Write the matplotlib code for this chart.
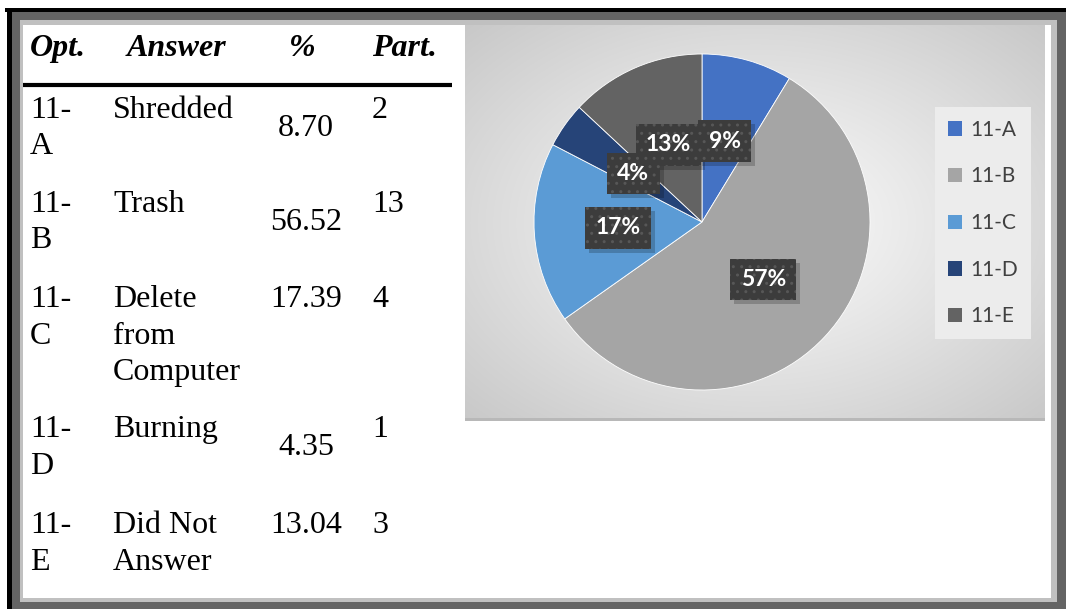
import numpy as np
import matplotlib.pyplot as plt
from matplotlib.patches import Rectangle, Patch
from matplotlib.transforms import IdentityTransform

# table / chart data
options = ["11-A", "11-B", "11-C", "11-D", "11-E"]
answers = [["Shredded"], ["Trash"], ["Delete", "from", "Computer"], ["Burning"], ["Did Not", "Answer"]]
percent = [8.70, 56.52, 17.39, 4.35, 13.04]
participants = [2, 13, 4, 1, 3]
headers = ["Opt.", "Answer", "%", "Part."]
slice_colors = ["#4472C4", "#A5A5A5", "#5B9BD5", "#264478", "#636363"]

W, H = 1066, 609
fig = plt.figure(figsize=(W / 100, H / 100), dpi=100)
base = fig.add_axes([0, 0, 1, 1])
base.set_xlim(0, W)
base.set_ylim(H, 0)
base.set_axis_off()


def rect(x0, y0, x1, y1, color, z=1):
    base.add_patch(Rectangle((x0, y0), x1 - x0, y1 - y0, facecolor=color, edgecolor="none", zorder=z))


# page frame
rect(5, 8, W, 12, "#000000")
rect(7, 8, 12, H, "#000000")
rect(12, 12, W, H, "#646464")
rect(20, 20, 1057, 602, "#c0c0c0")
rect(23, 25, 1051, 598, "#ffffff")

# chart background with radial gradient
bx0, by0, bx1, by1 = 465, 25, 1045, 420
bw, bh = bx1 - bx0, by1 - by0
yy, xx = np.mgrid[0:bh, 0:bw]
d = np.sqrt(((xx - 0.5 * bw) / (0.5 * bw)) ** 2 + ((yy - 0.5 * bh) / (0.5 * bh)) ** 2)
g = 0.985 - 0.2 * (d / np.sqrt(2)) ** 1.1
base.imshow(np.dstack([g, g, g]), extent=[bx0, bx1, by1, by0], aspect="auto", zorder=2,
            interpolation="bilinear")
rect(bx0, by1 - 2, bx1, by1 + 1, "#b8b8b8", z=3)
base.set_xlim(0, W)
base.set_ylim(H, 0)

# table
serif = "Liberation Serif"
fs = 23
header_x = [30, 127, 302, 372]
header_ha = ["left", "left", "center", "left"]
for txt, x, ha in zip(headers, header_x, header_ha):
    base.text(x, 56, txt, fontfamily=serif, fontsize=fs, fontweight="bold", fontstyle="italic",
              ha=ha, va="baseline", zorder=5)
base.plot([23, 452], [85, 85], color="black", lw=3, solid_capstyle="butt", zorder=5)

row_base = [118, 212, 307, 437, 533]
pct_centered = [True, True, False, True, False]
step = 36.5
for i in range(len(options)):
    y = row_base[i]
    opt = options[i]
    base.text(30, y, opt[:3], fontfamily=serif, fontsize=fs, va="baseline", zorder=5)
    base.text(30, y + step, opt[3:], fontfamily=serif, fontsize=fs, va="baseline", zorder=5)
    for k, line in enumerate(answers[i]):
        base.text(113, y + k * step, line, fontfamily=serif, fontsize=fs, va="baseline", zorder=5)
    py = y + step / 2 if pct_centered[i] else y
    base.text(306, py, "%.2f" % percent[i], fontfamily=serif, fontsize=fs, ha="center",
              va="baseline", zorder=5)
    base.text(372, y, str(participants[i]), fontfamily=serif, fontsize=fs, va="baseline", zorder=5)

# pie
cx, cy, r = 702, 222, 168
pax = fig.add_axes([(cx - r) / W, (H - cy - r) / H, 2 * r / W, 2 * r / H])
pax.patch.set_alpha(0)
wedges, _, autotexts = pax.pie(percent, colors=slice_colors, startangle=90, counterclock=False,
                               autopct="%1.0f%%", pctdistance=0.5,
                               wedgeprops=dict(edgecolor="white", linewidth=0.6))
for t in autotexts:
    t.set_color("white")
    t.set_fontfamily("Lato")
    t.set_fontweight("bold")
    t.set_fontsize(16.5)
    t.set_zorder(4)
    t.set_bbox(dict(boxstyle="square,pad=0.45", facecolor="#3c3c3c", edgecolor="#575757",
                    hatch="..", linewidth=0))
pax.set_aspect("auto")
pax.set_xlim(-1, 1)
pax.set_ylim(-1, 1)

# soft drop shadow behind each label box (drawn under the boxes)
fig.canvas.draw()
for t in autotexts:
    bb = t.get_bbox_patch().get_window_extent()
    pax.add_artist(Rectangle((bb.x0 + 4, bb.y0 - 4), bb.width, bb.height,
                             transform=IdentityTransform(), clip_on=False,
                             facecolor=(0, 0, 0, 0.2), edgecolor="none", zorder=3))

handles = [Patch(facecolor=c, edgecolor="none") for c in slice_colors]
leg = fig.legend(handles, options, loc="center", bbox_to_anchor=(983 / W, 1 - 223 / H),
                 frameon=True, fancybox=False, facecolor="#ececec", edgecolor="none", framealpha=1,
                 prop=dict(family="Lato", size=15), labelcolor="#404040",
                 handlelength=0.68, handleheight=0.68, handletextpad=0.4, labelspacing=1.28,
                 borderpad=0.6)

fig.savefig("out.png", dpi=100)
